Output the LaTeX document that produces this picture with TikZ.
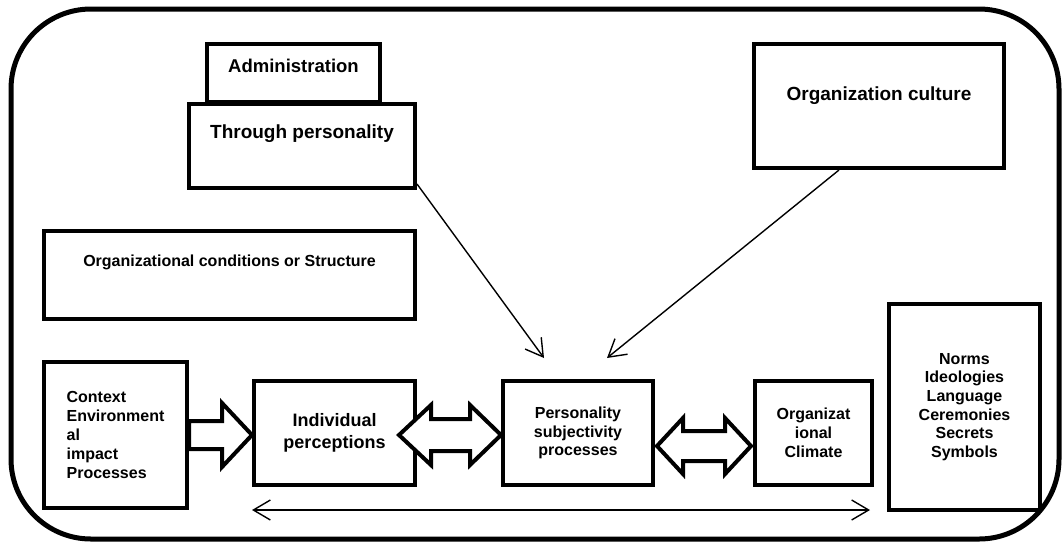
\documentclass[tikz,border=0pt]{standalone}
\usepackage{fontspec}
\setmainfont{Liberation Sans}
\usetikzlibrary{arrows.meta,calc}
\begin{document}
\begin{tikzpicture}[x=1pt,y=-1pt,
  box/.style={draw,line width=4pt,fill=white,inner sep=0pt,anchor=north west,
    font=\bfseries\fontsize{16}{19}\selectfont},
  thinarrow/.style={line width=1.4pt,-{Straight Barb[length=17pt,width=20pt,line width=1.4pt]}},
  boththin/.style={line width=1.4pt,{Straight Barb[length=17pt,width=20pt,line width=1.4pt]}-{Straight Barb[length=17pt,width=20pt,line width=1.4pt]}},
  blockarrow/.style={draw,line width=4pt,fill=white,line join=miter}]
\useasboundingbox (0,0) rectangle (1062,542);
\draw[line width=5pt, rounded corners=80pt] (11,9) rectangle (1059,539);

% boxes
\node[box,minimum width=173pt,minimum height=58pt,text height=28.4pt,text depth=29.6pt,
  font=\bfseries\fontsize{18.5}{22}\selectfont] (adm) at (205,42) {Administration};
\node[box,minimum width=226pt,minimum height=84pt,text height=34.8pt,text depth=49.2pt,
  font=\bfseries\fontsize{19}{22}\selectfont] (tp) at (187,102) {Through personality};
\node[box,minimum width=250pt,minimum height=124pt,text height=56.8pt,text depth=67.2pt,
  font=\bfseries\fontsize{19}{22}\selectfont] (oc) at (752,42) {Organization culture};
\node[box,minimum width=371pt,minimum height=88pt,text height=35.7pt,text depth=52.3pt] (ocs) at (42,229) {Organizational conditions or Structure};
\node[box,minimum width=143pt,minimum height=146pt,align=left] (ctx) at (42,360)
  {Context\\Environment\\al\\impact\\Processes};
\node[box,minimum width=161pt,minimum height=104pt,align=center,
  font=\bfseries\fontsize{18}{21.7}\selectfont] (ind) at (252,379) {Individual\\perceptions};
\node[box,minimum width=150pt,minimum height=104pt,align=center,
  font=\bfseries\fontsize{16}{18.3}\selectfont] (psp) at (501,379) {Personality\\subjectivity\\processes};
\node[box,minimum width=117pt,minimum height=104pt,align=center] (clim) at (753,379) {Organizat\\ional\\Climate};
\node[box,minimum width=151pt,minimum height=206pt,align=center,
  font=\bfseries\fontsize{16}{18.6}\selectfont] (norms) at (887,302)
  {Norms\\Ideologies\\Language\\Ceremonies\\Secrets\\Symbols};

% thin arrows
\draw[thinarrow] ($(tp.south east)+(0,-6)$) -- ($(psp.north west)+(43,-21)$);
\draw[thinarrow] ($(oc.south)+(-40,0)$) -- ($(psp.north west)+(106,-21)$);
\coordinate (bl) at (252,510);
\coordinate (br) at (870,510);
\draw[boththin] (bl) -- (br);

% block arrows
\coordinate (t1) at (ind.west |- ctx.east);
\draw[blockarrow] ($(ctx.east)+(0,-14)$) -- ($(t1)+(-30,-14)$) -- ($(t1)+(-30,-32)$) -- (t1)
  -- ($(t1)+(-30,32)$) -- ($(t1)+(-30,14)$) -- ($(ctx.east)+(0,14)$) -- cycle;

\coordinate (a1) at ($(ind.east)+(-18,2)$);
\coordinate (a2) at ($(psp.west)+(0,2)$);
\draw[blockarrow] (a1) -- ($(a1)+(32,-30)$) -- ($(a1)+(32,-16)$) -- ($(a2)+(-31,-16)$)
  -- ($(a2)+(-31,-30)$) -- (a2) -- ($(a2)+(-31,30)$) -- ($(a2)+(-31,16)$)
  -- ($(a1)+(32,16)$) -- ($(a1)+(32,30)$) -- cycle;

\coordinate (b1) at ($(psp.east)+(2,13)$);
\coordinate (b2) at ($(clim.west)+(-2,13)$);
\draw[blockarrow] (b1) -- ($(b1)+(26,-28)$) -- ($(b1)+(26,-15)$) -- ($(b2)+(-26,-15)$)
  -- ($(b2)+(-26,-28)$) -- (b2) -- ($(b2)+(-26,28)$) -- ($(b2)+(-26,15)$)
  -- ($(b1)+(26,15)$) -- ($(b1)+(26,28)$) -- cycle;
\end{tikzpicture}
\end{document}
